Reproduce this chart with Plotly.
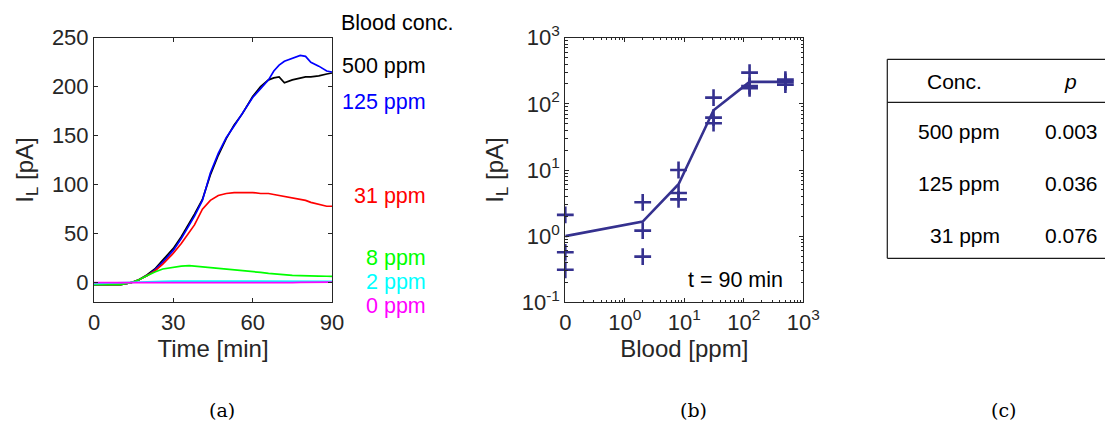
import plotly.graph_objects as go

# ---------------- (a) time courses ----------------
time_min = [0, 5, 10, 14, 17, 20, 23, 26, 30, 33, 36, 38, 41, 44, 47, 50, 53, 56, 60, 63, 66, 68, 70, 72, 75, 78, 80, 82, 85, 88, 90]
il_500 = [-2, -2, -2, 0, 3, 8, 14, 23, 35, 47, 60, 70, 85, 110, 130, 147, 161, 172, 190, 200, 207, 209, 210, 204, 207, 209, 210, 210, 211, 213, 214]
il_125 = [-2, -2, -2, 0, 3, 7, 13, 21, 33, 45, 58, 68, 84, 112, 132, 148, 160, 172, 189, 198, 207, 216, 222, 226, 229, 232, 231, 225, 221, 216, 215]
il_31 = [-2, -2, -2, 0, 3, 7, 12, 19, 30, 40, 51, 59, 75, 84, 89, 91, 92, 92, 92, 91, 91, 90, 89, 88, 86, 85, 84, 82, 80, 78, 78]
il_8 = [-2, -2, -2, 0, 3, 7, 11, 14, 16, 17, 17.5, 17, 16.5, 16, 15, 14.5, 13.5, 12.5, 11.5, 10.5, 9.5, 9, 8.5, 8, 7.5, 7.3, 7, 7, 6.8, 6.6, 6.5]
il_2 = [-1, -0.5, 0, 0.8, 1.2, 1.5, 1.5, 1.5, 1.6, 1.6, 1.6, 1.6, 1.6, 1.6, 1.6, 1.5, 1.5, 1.5, 1.5, 1.5, 1.5, 1.5, 1.5, 1.5, 1.5, 1.5, 1.5, 1.5, 1.5, 1.5, 1.5]
il_0 = [0, 0, 0, 0, -0.5, -0.5, -0.5, -0.5, -0.5, -0.5, -0.5, -0.5, -0.3, -0.3, -0.2, -0.2, 0, 0, -0.3, -0.3, 0, 0, -0.3, 0, 0, 0.3, 0.3, 0.3, 0.5, 0.5, 0.5]

series_a = [
    ("500 ppm", il_500, "#000000"),
    ("125 ppm", il_125, "#0000ff"),
    ("31 ppm", il_31, "#ff0000"),
    ("8 ppm", il_8, "#00ff00"),
    ("2 ppm", il_2, "#00ffff"),
    ("0 ppm", il_0, "#ff00ff"),
]

# ---------------- (b) dose response at t = 90 min ----------------
blood_ppm = [0, 2, 8, 31, 125, 500]
zero_pos = 0.1  # position on the log axis where "0" is drawn
marker_ppm = [0, 0, 0, 2, 2, 2, 8, 8, 8, 31, 31, 31, 125, 125, 125, 500, 500, 500]
marker_il = [2.1, 0.57, 0.31, 3.25, 1.21, 0.49, 10, 4.5, 3.6, 124, 62, 51, 296, 186, 172, 232, 215, 195]
fit_il = [1.0, 1.66, 6.1, 80, 215, 215]

# ---------------- (c) table ----------------
table_conc = ["500 ppm", "125 ppm", "31 ppm"]
table_p = ["0.003", "0.036", "0.076"]

AX = "#262626"
FONT = "Liberation Sans, Arial, sans-serif"
SERIF = "DejaVu Serif, Liberation Serif, serif"
W, H = 1105, 425


def to_log_pos(v):
    return zero_pos if v == 0 else v


def px(x):
    return x / W


def py(y):
    return 1 - y / H


fig = go.Figure()

for name, ys, col in series_a:
    fig.add_trace(go.Scatter(x=time_min, y=ys, mode="lines", name=name,
                             line=dict(color=col, width=1.7), xaxis="x", yaxis="y",
                             showlegend=False))

fig.add_trace(go.Scatter(x=[to_log_pos(v) for v in blood_ppm], y=fit_il, mode="lines",
                         line=dict(color="#35318f", width=2.6),
                         xaxis="x2", yaxis="y2", showlegend=False))
fig.add_trace(go.Scatter(x=[to_log_pos(v) for v in marker_ppm], y=marker_il, mode="markers",
                         marker=dict(symbol="cross-thin", size=12, line=dict(color="#35318f", width=2.6)),
                         xaxis="x2", yaxis="y2", showlegend=False, cliponaxis=False))

y_dom = [py(302.3), py(37.7)]
axis_common = dict(showline=True, linecolor=AX, linewidth=1, mirror="ticks", ticks="inside",
                   ticklen=4, tickcolor=AX, showgrid=False, zeroline=False, automargin=False,
                   tickfont=dict(family=FONT, size=22, color=AX),
                   title_font=dict(family=FONT, size=24, color=AX))
minor_log = dict(ticks="inside", ticklen=2.5, tickcolor=AX, tickwidth=1, dtick="D1", showgrid=False)

fig.update_layout(
    width=W, height=H, margin=dict(l=0, r=0, t=0, b=0),
    paper_bgcolor="white", plot_bgcolor="white",
    xaxis=dict(domain=[px(94), px(332)], range=[0, 90], tickvals=[0, 30, 60, 90],
               title=dict(text="Time [min]", standoff=4), **axis_common),
    yaxis=dict(domain=y_dom, range=[-20, 250], tickvals=[0, 50, 100, 150, 200, 250],
               title=dict(text="I<sub>L</sub> [pA]", standoff=11), **axis_common),
    xaxis2=dict(domain=[px(565.3), px(803.3)], type="log", range=[-1, 3], anchor="y2",
                tickvals=[0.1, 1, 10, 100, 1000],
                ticktext=["0", "10<sup>0</sup>", "10<sup>1</sup>", "10<sup>2</sup>", "10<sup>3</sup>"],
                minor=minor_log, title=dict(text="Blood [ppm]", standoff=2), **axis_common),
    yaxis2=dict(domain=y_dom, type="log", range=[-1, 3], anchor="x2",
                tickvals=[0.1, 1, 10, 100, 1000],
                ticktext=["10<sup>-1</sup>", "10<sup>0</sup>", "10<sup>1</sup>", "10<sup>2</sup>", "10<sup>3</sup>"],
                minor=minor_log, title=dict(text="I<sub>L</sub> [pA]", standoff=11), **axis_common),
)

LBL = 21.5
annotations = []
# series labels beside panel (a)
annotations.append(dict(text="Blood conc.", x=px(455), y=py(23), xref="paper", yref="paper",
                        xanchor="right", yanchor="middle", showarrow=False,
                        font=dict(family=FONT, size=LBL, color="#000000")))
label_px = [66, 101.7, 196, 258, 281.7, 306]
for (name, ys, col), ly in zip(series_a, label_px):
    annotations.append(dict(text=name, x=px(428), y=py(ly), xref="paper", yref="paper",
                            xanchor="right", yanchor="middle", showarrow=False,
                            font=dict(family=FONT, size=LBL, color=col)))

annotations.append(dict(text="t = 90 min", x=px(735), y=py(280), xref="paper", yref="paper",
                        xanchor="center", yanchor="middle", showarrow=False,
                        font=dict(family=FONT, size=LBL, color="#000000")))

# table (c)
annotations.append(dict(text="Conc.", x=px(954), y=py(81.7), xref="paper", yref="paper",
                        xanchor="center", yanchor="middle", showarrow=False,
                        font=dict(family=FONT, size=21, color="#000000")))
annotations.append(dict(text="<i>p</i>", x=px(1070), y=py(81.7), xref="paper", yref="paper",
                        xanchor="center", yanchor="middle", showarrow=False,
                        font=dict(family=FONT, size=21, color="#000000")))
row_px = [131.7, 184, 235]
for conc, pv, ry in zip(table_conc, table_p, row_px):
    annotations.append(dict(text=conc, x=px(1002), y=py(ry), xref="paper", yref="paper",
                            xanchor="right", yanchor="middle", showarrow=False,
                            font=dict(family=FONT, size=21, color="#000000")))
    annotations.append(dict(text=pv, x=px(1100), y=py(ry), xref="paper", yref="paper",
                            xanchor="right", yanchor="middle", showarrow=False,
                            font=dict(family=FONT, size=21, color="#000000")))

# sub-figure captions
for cap, cx in [("(a)", 222), ("(b)", 693), ("(c)", 1003)]:
    annotations.append(dict(text=cap, x=px(cx), y=py(410), xref="paper", yref="paper",
                            xanchor="center", yanchor="middle", showarrow=False,
                            font=dict(family=SERIF, size=19, color="#000000")))

fig.update_layout(annotations=annotations)

TL = dict(color="#1a1a1a", width=1.2)
shapes = [
    dict(type="line", xref="paper", yref="paper", x0=px(887.3), x1=1, y0=py(59.3), y1=py(59.3), line=TL),
    dict(type="line", xref="paper", yref="paper", x0=px(887.3), x1=1, y0=py(102.3), y1=py(102.3), line=TL),
    dict(type="line", xref="paper", yref="paper", x0=px(887.3), x1=1, y0=py(258.3), y1=py(258.3), line=TL),
    dict(type="line", xref="paper", yref="paper", x0=px(887.3), x1=px(887.3), y0=py(59.3), y1=py(258.3), line=TL),
]
fig.update_layout(shapes=shapes)

fig.write_html("out.html")
